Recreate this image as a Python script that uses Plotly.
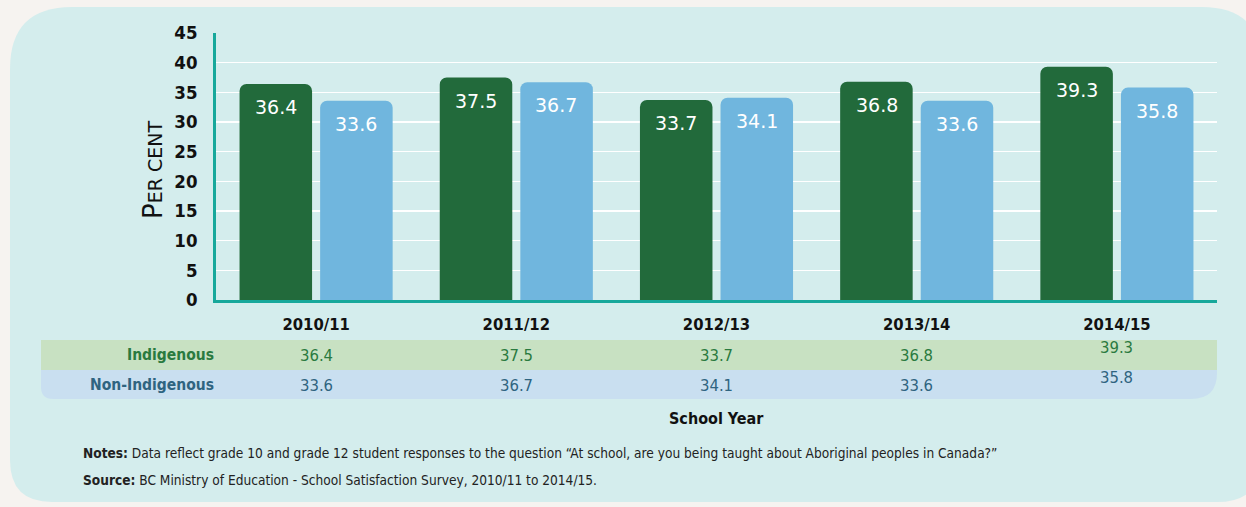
import plotly.graph_objects as go

years = ["2010/11", "2011/12", "2012/13", "2013/14", "2014/15"]
indigenous = [36.4, 37.5, 33.7, 36.8, 39.3]
non_indigenous = [33.6, 36.7, 34.1, 33.6, 35.8]
y_ticks = [0, 5, 10, 15, 20, 25, 30, 35, 40, 45]

W, H = 1246, 507
L, R, T, B = 216, 29, 33, 207
PW = W - L - R
PH = H - T - B

NARROW = "DejaVu Sans Condensed, Liberation Sans Narrow, Arial Narrow, sans-serif"
GEO = "DejaVu Sans, Verdana, sans-serif"

GREEN = "#226a3b"
BLUE = "#70b6de"
TEAL = "#17a89b"
OUTER = "#f6f3f0"


def px(x):
    return (x - L) / PW


def py(y):
    return (T + PH - y) / PH


def rrect(x0, y0, x1, y1, tl=0, tr=0, br=0, bl=0):
    pts = []
    pts.append(f"M {px(x0 + tl)},{py(y0)}")
    pts.append(f"L {px(x1 - tr)},{py(y0)}")
    if tr:
        pts.append(f"Q {px(x1)},{py(y0)} {px(x1)},{py(y0 + tr)}")
    pts.append(f"L {px(x1)},{py(y1 - br)}")
    if br:
        pts.append(f"Q {px(x1)},{py(y1)} {px(x1 - br)},{py(y1)}")
    pts.append(f"L {px(x0 + bl)},{py(y1)}")
    if bl:
        pts.append(f"Q {px(x0)},{py(y1)} {px(x0)},{py(y1 - bl)}")
    pts.append(f"L {px(x0)},{py(y0 + tl)}")
    if tl:
        pts.append(f"Q {px(x0)},{py(y0)} {px(x0 + tl)},{py(y0)}")
    pts.append("Z")
    return " ".join(pts)


fig = go.Figure()
fig.add_trace(go.Bar(x=years, y=indigenous, name="Indigenous", hoverinfo="skip",
                     marker=dict(color=GREEN, line=dict(width=0))))
fig.add_trace(go.Bar(x=years, y=non_indigenous, name="Non-Indigenous", hoverinfo="skip",
                     marker=dict(color=BLUE, line=dict(width=0))))

shapes = []
# panel
shapes.append(dict(type="path", xref="paper", yref="paper", layer="below",
                   path=rrect(10, 7, 1262, 502, tl=62, tr=60, br=45, bl=42),
                   fillcolor="#d4eded", line=dict(width=0)))
# table bands
shapes.append(dict(type="path", xref="paper", yref="paper", layer="below",
                   path=rrect(41, 340, 1217, 370),
                   fillcolor="#c8e1c2", line=dict(width=0)))
shapes.append(dict(type="path", xref="paper", yref="paper", layer="below",
                   path=rrect(41, 370, 1217, 399, br=26, bl=12),
                   fillcolor="#c9dff0", line=dict(width=0)))

ann = []
# in-bar labels
for i, yr in enumerate(years):
    for val, off in ((indigenous[i], -0.2), (non_indigenous[i], 0.2)):
        ann.append(dict(x=i + off, xref="x", y=val, yref="y", yanchor="top", yshift=-10,
                        text=f"{val}", showarrow=False,
                        font=dict(family=GEO, size=19, color="white")))

# table
ann.append(dict(x=0, xref="paper", y=py(355), yref="paper", xanchor="right", yanchor="middle",
                text="<b>Indigenous</b>", showarrow=False,
                font=dict(family=NARROW, size=15.5, color="#2a7a3f")))
ann.append(dict(x=0, xref="paper", y=py(385), yref="paper", xanchor="right", yanchor="middle",
                text="<b>Non-Indigenous</b>", showarrow=False,
                font=dict(family=NARROW, size=15.5, color="#2f6480")))
for i, yr in enumerate(years):
    shift = 8 if i == len(years) - 1 else 0
    ann.append(dict(x=yr, xref="x", y=py(355), yref="paper", yanchor="middle", yshift=shift,
                    text=f"{indigenous[i]}", showarrow=False,
                    font=dict(family=NARROW, size=16.5, color="#2a7a3f")))
    ann.append(dict(x=yr, xref="x", y=py(385), yref="paper", yanchor="middle", yshift=shift,
                    text=f"{non_indigenous[i]}", showarrow=False,
                    font=dict(family=NARROW, size=16.5, color="#2f6480")))

ann.append(dict(x=px(716), xref="paper", y=py(418), yref="paper", yanchor="middle",
                text="<b>School Year</b>", showarrow=False,
                font=dict(family=NARROW, size=16, color="#111111")))

# y title
ann.append(dict(x=px(153), xref="paper", y=py(170), yref="paper", xanchor="center", yanchor="middle",
                textangle=-90, showarrow=False,
                text="P<span style='font-size:19px'>ER CENT</span>",
                font=dict(family=GEO, size=26, color="#111111")))

# notes
ann.append(dict(x=px(81), xref="paper", y=py(453), yref="paper", xanchor="left", yanchor="middle",
                showarrow=False, align="left",
                text="<b>Notes:</b> Data reflect grade 10 and grade 12 student responses to the question \u201cAt school, are you being taught about Aboriginal peoples in Canada?\u201d",
                font=dict(family=NARROW, size=13.6, color="#222222")))
ann.append(dict(x=px(81), xref="paper", y=py(480), yref="paper", xanchor="left", yanchor="middle",
                showarrow=False, align="left",
                text="<b>Source:</b> BC Ministry of Education - School Satisfaction Survey, 2010/11 to 2014/15.",
                font=dict(family=NARROW, size=13.6, color="#222222")))

fig.update_layout(
    width=W, height=H,
    margin=dict(l=L, r=R, t=T, b=B, pad=0),
    paper_bgcolor=OUTER,
    plot_bgcolor="rgba(0,0,0,0)",
    showlegend=False,
    hovermode=False,
    barmode="group",
    bargap=0.195,
    bargroupgap=0.1,
    barcornerradius=7,
    shapes=shapes,
    annotations=ann,
    xaxis=dict(type="category", range=[-0.5, 4.5], showgrid=False, zeroline=False,
               showline=True, linecolor=TEAL, linewidth=2.8, ticks="",
               ticklabelstandoff=7,
               tickfont=dict(family=NARROW, size=16.5, color="#111111"),
               tickvals=years, ticktext=[f"<b>{y}</b>" for y in years]),
    yaxis=dict(range=[0, 45], tickvals=y_ticks, ticktext=[f"<b>{t}</b>" for t in y_ticks],
               showgrid=True, gridcolor="white", gridwidth=1.5, zeroline=False,
               showline=True, linecolor=TEAL, linewidth=2.8, ticks="",
               ticklabelstandoff=12,
               tickfont=dict(family=NARROW, size=18.5, color="#111111")),
)

fig.write_html(
    "out.html",
    config={"displayModeBar": False, "staticPlot": True},
    post_script=f"document.body.style.margin='0';document.body.style.backgroundColor='{OUTER}';",
)
